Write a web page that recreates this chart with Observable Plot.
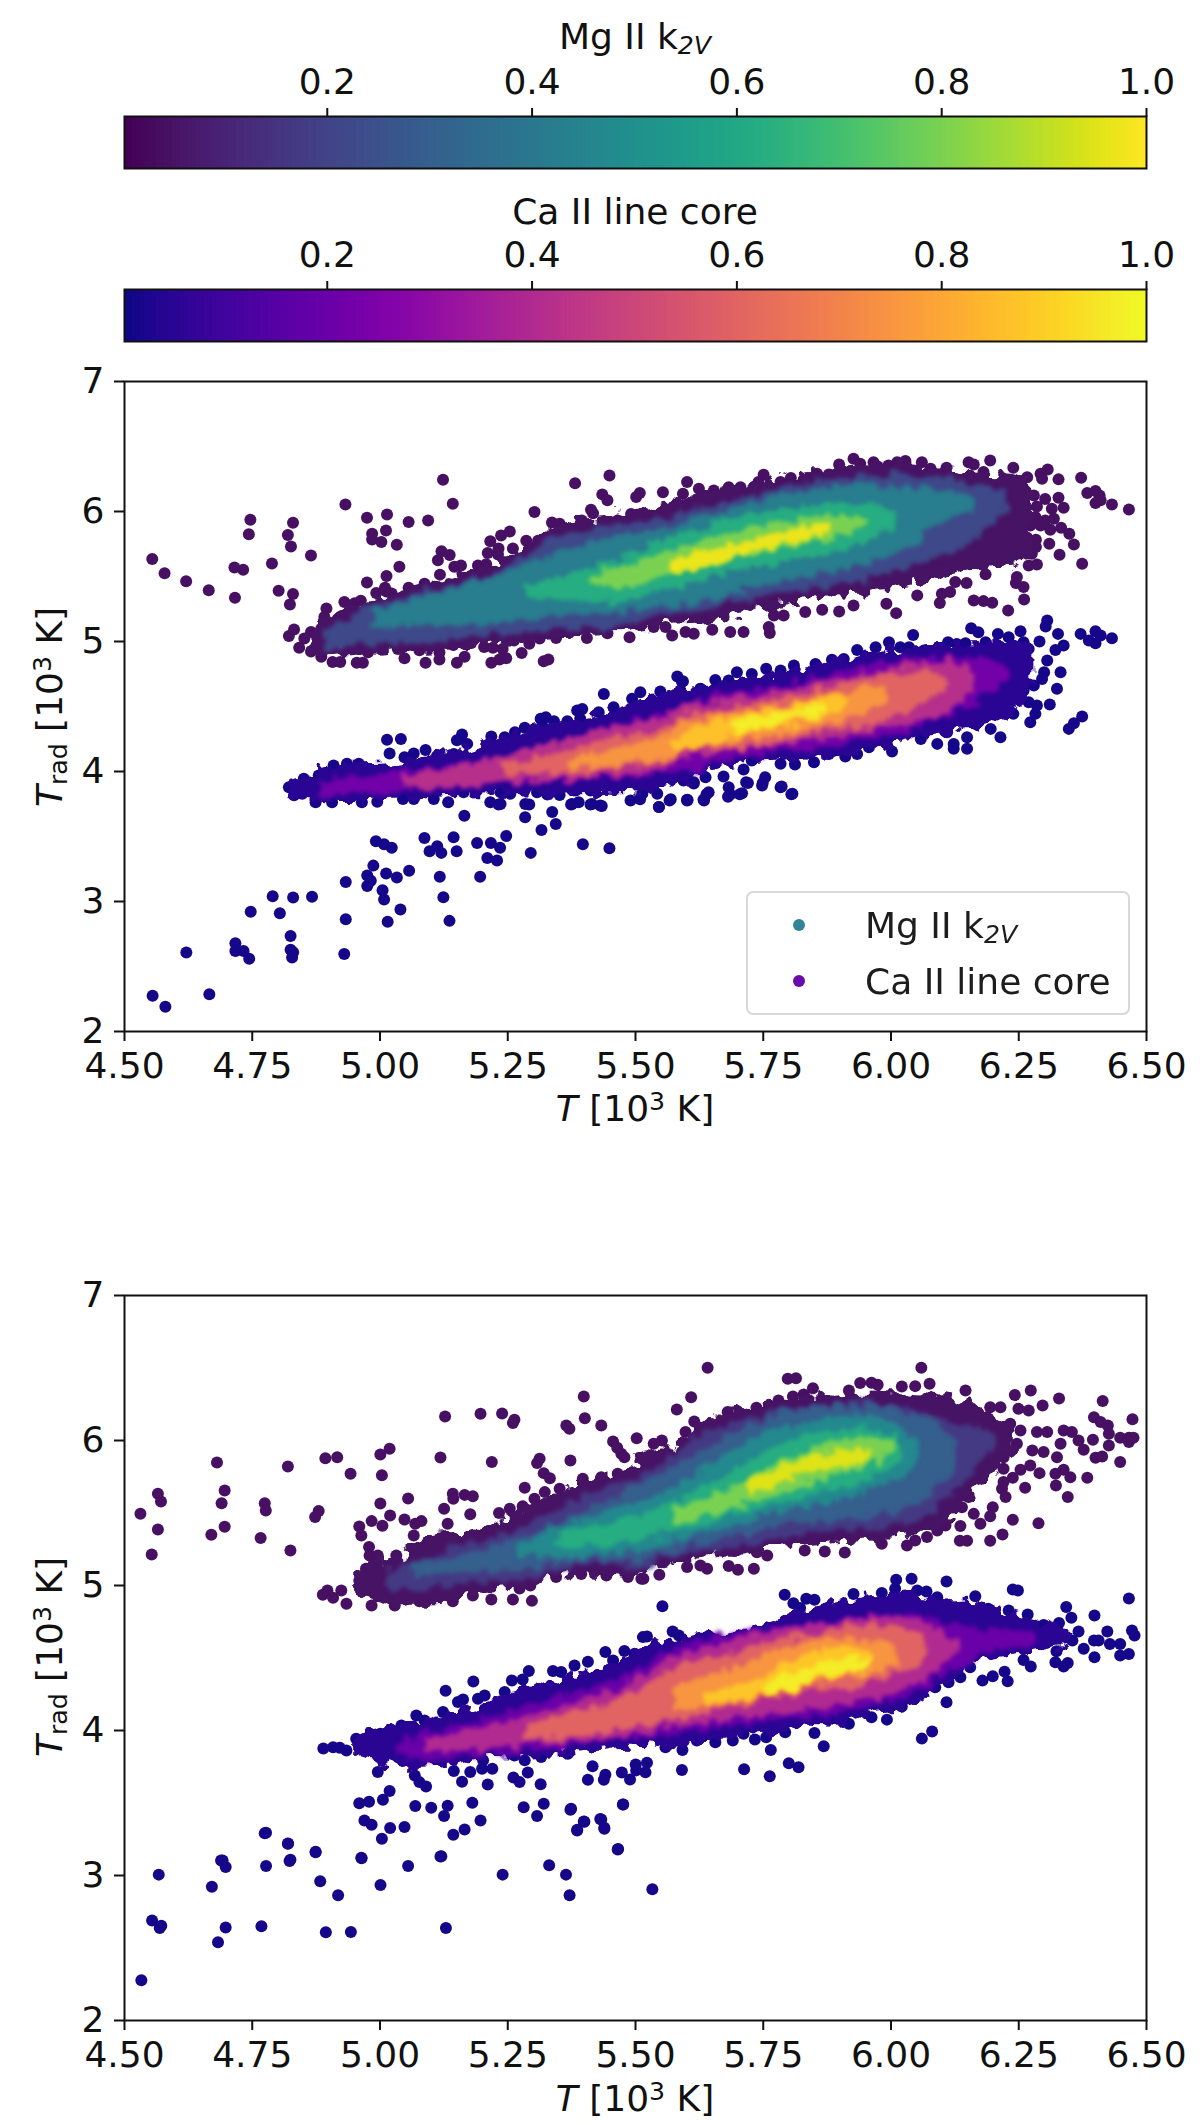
<!DOCTYPE html>
<html><head><meta charset="utf-8">
<script src="https://cdn.jsdelivr.net/npm/d3@7"></script>
<script src="https://cdn.jsdelivr.net/npm/@observablehq/plot@0.6"></script>
<style>
html,body{margin:0;padding:0;background:#fff;}
#page{position:relative;width:1200px;height:2125px;overflow:hidden;font-family:"DejaVu Sans",sans-serif;color:#111;}
#page svg{position:absolute;left:0;background:none;overflow:visible;}
.lab{position:absolute;font-size:36px;line-height:40px;white-space:nowrap;transform:translateX(-50%);}
.lab sub,.leg sub{font-size:.7em;line-height:0;font-style:italic;vertical-align:-.2em;}
.lab sup{font-size:.7em;line-height:0;vertical-align:.45em;}
.rot{position:absolute;font-size:36px;line-height:40px;white-space:nowrap;transform:translate(-50%,-50%) rotate(-90deg);}
.rot sub{font-size:.7em;line-height:0;vertical-align:-.2em;}
.rot sup{font-size:.7em;line-height:0;vertical-align:.45em;}
#legend{position:absolute;left:746px;top:891px;width:380px;height:120px;border:2px solid #d6d6d6;border-radius:7px;background:#fff;opacity:.95;}
.leg{position:absolute;left:117px;font-size:36px;line-height:40px;white-space:nowrap;}
.ldot{position:absolute;left:45px;width:12px;height:12px;border-radius:50%;}
</style></head><body>
<svg width="0" height="0" style="position:absolute"><defs>
<filter id="rough0" x="-5%" y="-8%" width="110%" height="116%" color-interpolation-filters="sRGB"><feTurbulence type="fractalNoise" baseFrequency="0.085" numOctaves="2" seed="4" result="n"/><feDisplacementMap in="SourceGraphic" in2="n" scale="22" xChannelSelector="R" yChannelSelector="G"/></filter>
<filter id="rough1" x="-8%" y="-12%" width="116%" height="124%" color-interpolation-filters="sRGB"><feTurbulence type="fractalNoise" baseFrequency="0.09" numOctaves="2" seed="9" result="n"/><feDisplacementMap in="SourceGraphic" in2="n" scale="18" xChannelSelector="R" yChannelSelector="G" result="d"/><feGaussianBlur in="d" stdDeviation="2"/></filter>
</defs></svg>
<div id="page"></div>
<script>
// ---- axes
const xTicks=[4.5,4.75,5,5.25,5.5,5.75,6,6.25,6.5];
const yTicks=[2,3,4,5,6,7];
const cbTicks=[0.2,0.4,0.6,0.8,1.0];
const cbDomain=[0.002,1];
// ---- upper panel, Mg II k2V : [T, Trad] scattered points
const mg1Points=[[4.554,5.64],[4.578,5.53],[4.62,5.47],[4.664,5.40],[4.714,5.575],[4.731,5.557],[4.715,5.343],[4.745,5.94],[4.742,5.83],[4.787,5.606],[4.80,5.396],[4.828,5.917],[4.818,5.823],[4.824,5.736],[4.863,5.667],[4.828,5.371],[4.822,5.292],[4.93,6.058],[4.972,5.956],[5.011,5.981],[4.982,5.833],[4.982,5.79],[5.009,5.859],[5.0,5.77],[5.03,5.749],[5.053,5.923],[5.091,5.935],[5.12,6.247],[5.139,6.063],
[4.82,5.05],[4.83,5.10],[4.84,4.96],[4.85,5.03],[4.863,4.93],[4.883,4.89],[4.905,4.85],[4.92,4.85],[4.952,4.845],[4.964,4.845],[5.045,4.88],[5.086,4.845],[5.113,4.87],[5.147,4.845],[5.162,4.89],[5.214,4.845],[5.23,4.87],[5.243,4.88],[5.273,4.92],[5.316,4.857],[5.325,4.87],[5.258,5.015],[5.20,4.965],[5.217,4.96],[5.236,4.95],[5.288,4.99],[5.308,5.03],[5.34,5.035],[5.40,5.035],[5.44,5.07],[5.483,5.04],[5.113,4.925],[5.14,4.98],[5.175,5.015],[5.074,4.94],[5.032,4.95],[5.0,4.95],[4.974,4.925],
[4.893,5.26],[4.889,5.195],[4.928,5.31],[4.948,5.30],[4.96,5.32],[4.94,5.23],[4.915,5.18],[4.883,5.105],[4.863,5.08],[4.972,5.46],[5.01,5.51],[5.007,5.42],[4.99,5.38],[5.01,5.39],[5.02,5.375],[5.053,5.42],[5.035,5.58],[5.084,5.45],[5.114,5.52],[5.11,5.63],[5.117,5.70],[5.133,5.67],[5.142,5.58],[5.155,5.59],[5.188,5.59],[5.204,5.60],[5.212,5.775],[5.233,5.82],[5.25,5.85],[5.207,5.685],[5.228,5.72],[5.227,5.675],[5.256,5.72],[5.282,5.78],[5.305,5.78],[5.298,6.0],[5.332,5.92],[5.347,5.91],[5.377,6.22],[5.444,6.28],[5.43,6.135],[5.44,6.09],[5.408,6.017],[5.412,5.99],[5.39,5.935],[5.496,6.115],[5.503,6.145],[5.46,5.935],[5.486,5.985],
[5.548,6.152],[5.595,6.229],[5.587,6.14],[5.618,6.178],[5.647,6.165],[5.676,6.19],[5.699,6.19],[5.744,6.285],[5.734,6.229],[5.777,6.229],[5.797,6.26],[5.822,6.247],[5.848,6.293],[5.871,6.288],[5.891,6.364],[5.919,6.408],[5.932,6.37],[5.958,6.382],[5.966,6.349],[5.987,6.357],[6.004,6.382],[6.02,6.39],[6.052,6.382],[6.069,6.331],[6.10,6.339],[6.143,6.382],[6.153,6.364],[6.185,6.395],[6.172,6.306],[6.23,6.339],[6.257,6.267],[6.297,6.326],[6.283,6.293],[6.286,6.255],[6.318,6.25],[6.362,6.262],[6.374,6.145],[6.39,6.16],[6.398,6.127],[6.39,6.068],[6.4,6.09],[6.422,6.058],[6.455,6.02],
[6.27,6.127],[6.292,6.1],[6.318,6.109],[6.328,6.032],[6.305,6.025],[6.276,6.043],[6.273,5.961],[6.292,5.935],[6.309,5.948],[6.263,5.897],[6.283,5.897],[6.302,5.864],[6.323,5.879],[6.339,5.833],[6.257,5.802],[6.274,5.787],[6.30,5.757],[6.348,5.751],[6.274,5.731],[6.266,5.68],[6.32,5.672],[6.364,5.603],[6.276,5.598],[6.26,5.59],[6.237,5.501],[6.235,5.455],[6.25,5.425],[6.251,5.33],[6.22,5.246],
[6.153,5.322],[6.172,5.317],[6.189,5.304],[6.087,5.302],[6.091,5.373],[6.107,5.386],[6.117,5.463],[6.139,5.455],[6.176,5.522],[6.043,5.361],[5.983,5.297],[6.002,5.225],[5.919,5.284],[5.891,5.238],[5.858,5.251],[5.825,5.233],[5.783,5.207],[5.764,5.207],[5.756,5.072],[5.754,5.118],[5.705,5.08],[5.679,5.08],[5.644,5.098],[5.608,5.067],[5.592,5.08],[5.566,5.054],[5.553,5.118],[5.53,5.118]];
// density bands of the upper Mg II cloud: [T, low, high]
const mg1Level=[0.05,0.22,0.42,0.62,0.8,0.97];
const mg1B0=[[4.857,4.89,5.09],[4.954,4.91,5.284],[5.084,4.94,5.437],[5.214,4.965,5.60],[5.344,5.04,5.885],[5.473,5.07,6.0],[5.504,5.10,6.02],[5.634,5.16,6.14],[5.764,5.27,6.255],[5.893,5.35,6.33],[6.023,5.425,6.37],[6.153,5.55,6.306],[6.244,5.60,6.28],[6.262,5.72,6.2]];
const mg1B1=[[4.889,4.92,5.06],[4.954,4.975,5.23],[5.084,5.0,5.38],[5.214,5.05,5.53],[5.344,5.10,5.81],[5.473,5.128,5.915],[5.504,5.16,5.93],[5.634,5.26,6.04],[5.764,5.36,6.17],[5.893,5.435,6.26],[6.023,5.56,6.29],[6.153,5.79,6.22],[6.218,6.01,6.17]];
const mg1B2=[[4.987,5.118,5.246],[5.052,5.12,5.32],[5.116,5.118,5.373],[5.214,5.14,5.50],[5.344,5.195,5.68],[5.473,5.22,5.83],[5.504,5.25,5.83],[5.634,5.32,5.96],[5.764,5.45,6.114],[5.893,5.55,6.20],[6.023,5.705,6.19],[6.088,5.91,6.165],[6.153,6.01,6.114]];
const mg1B3=[[5.279,5.35,5.42],[5.344,5.335,5.50],[5.473,5.30,5.654],[5.504,5.36,5.70],[5.569,5.42,5.81],[5.699,5.55,5.96],[5.828,5.64,6.05],[5.958,5.79,6.05],[5.997,5.884,5.986]];
const mg1B4=[[5.408,5.45,5.50],[5.473,5.425,5.603],[5.569,5.527,5.705],[5.699,5.655,5.86],[5.828,5.757,5.948],[5.906,5.833,5.974],[5.945,5.885,5.935]];
const mg1B5=[[5.56,5.525,5.625],[5.64,5.60,5.70],[5.72,5.69,5.79],[5.80,5.77,5.87],[5.87,5.82,5.92]];
// ---- upper panel, Ca II line core
const ca1FarPoints=[[4.555,2.275],[4.58,2.19],[4.666,2.287],[4.621,2.608],[4.717,2.679],[4.717,2.62],[4.733,2.62],[4.744,2.56],[4.747,2.922],[4.79,3.04],[4.804,2.91],[4.83,3.03],[4.867,3.036],[4.825,2.734],[4.825,2.628],[4.83,2.61],[4.828,2.57],[4.93,2.597],[4.933,2.863],[4.933,3.15],[4.975,3.12],[4.982,3.16],[4.987,3.276],[4.975,3.2],[5.015,2.844],[5.005,3.087],[5.008,3.016],[5.012,3.216],[5.033,3.185],[5.057,3.236],[5.04,2.938],[5.124,3.032],[5.136,2.851],[5.117,3.19],[5.196,3.19],[4.992,3.464],[5.008,3.44],[5.023,3.413],[5.087,3.488],[5.097,3.386],[5.112,3.425],[5.12,3.374],[5.144,3.495],[5.15,3.386],[5.19,3.45],[5.21,3.334],[5.217,3.45],[5.229,3.315],[5.235,3.413],[5.247,3.503],[5.295,3.374],[5.397,3.44],[5.449,3.41],[5.316,3.55],[5.344,3.597],[5.284,3.648],[5.337,3.688],[5.165,3.66],[5.232,3.746],[5.292,3.746],[5.374,3.746],[5.412,3.746],[5.434,3.735],[5.509,3.786],[5.546,3.727],[5.569,3.786],[5.602,3.78],[5.639,3.825],[5.681,3.805],[5.704,3.825],[5.72,3.911],[5.749,3.911],[5.786,3.884],[5.805,3.825]];
const ca1Points=[[4.82,3.89],[4.83,3.83],[4.849,3.955],[4.846,3.84],[4.878,3.98],[4.907,4.057],[4.933,4.07],[4.956,4.07],[4.872,3.776],[4.904,3.776],[4.962,3.776],[4.992,3.78],[5.042,3.80],[5.063,3.80],[5.102,3.80],[5.13,3.776],[5.011,4.254],[5.038,4.261],[5.016,4.149],[5.045,4.12],[5.063,4.15],[5.086,4.177],[5.108,4.128],[5.141,4.146],[5.157,4.295],[5.147,4.25],[5.167,4.223],[5.214,4.279],[5.206,4.2],[5.24,4.274],[5.26,4.312],[5.279,4.346],[5.31,4.415],[5.32,4.427],[5.313,4.363],[5.336,4.397],[5.362,4.397],[5.381,4.478],[5.391,4.491],[5.387,4.415],[5.423,4.466],[5.433,4.606],[5.452,4.504],[5.488,4.568],[5.504,4.619],[5.543,4.624],[5.576,4.739],[5.587,4.703],[5.582,4.632],[5.621,4.644],
[5.212,3.776],[5.232,3.763],[5.28,3.763],[5.347,3.832],[5.378,3.865],[5.371,3.763],[5.384,3.776],[5.41,3.763],[5.426,3.75],[5.407,3.865],[5.485,3.79],[5.508,3.84],[5.537,3.84],[5.54,3.74],[5.561,3.79],[5.595,3.79],[5.628,3.79],[5.608,3.92],[5.303,3.853],[5.323,3.835],[5.251,3.84],[5.232,3.853],[5.186,3.865],[5.16,3.853],
[5.585,4.70],[5.621,4.645],[5.65,4.713],[5.676,4.708],[5.692,4.772],[5.721,4.759],[5.749,4.798],[5.777,4.785],[5.803,4.823],[5.845,4.836],[5.877,4.867],[5.9,4.874],[5.926,4.943],[5.962,4.964],[5.988,5.002],[6.01,4.964],[6.035,5.058],[6.027,4.964],[6.056,4.938],[6.082,4.913],[6.103,5.002],[6.12,4.989],[6.137,4.994],[6.148,5.109],[6.162,5.079],[6.176,5.002],[6.2,5.066],[6.221,5.04],[6.244,5.086],[6.25,5.002],[6.26,4.951],[6.281,5.007],[6.296,5.168],[6.293,5.122],[6.317,5.066],[6.361,5.066],[6.377,5.015],[6.39,4.994],[6.39,5.086],[6.4,5.053],[6.422,5.033],[6.328,4.977],[6.312,4.943],[6.296,4.862],[6.322,4.772],[6.315,4.645],[6.29,4.772],[6.27,4.67],[6.286,4.721],[6.25,4.632],[6.301,4.524],[6.276,4.517],[6.26,4.542],[6.273,4.453],[6.263,4.389],[6.364,4.433],[6.348,4.381],[6.338,4.338],
[6.205,4.274],[6.23,4.453],[6.186,4.338],[6.14,4.185],[6.14,4.274],[6.114,4.185],[6.114,4.223],[6.082,4.223],[6.101,4.312],[6.05,4.261],[5.994,4.164],[5.949,4.197],[5.926,4.146],[5.903,4.126],[5.871,4.146],[5.842,4.083],[5.805,4.065],[5.777,4.07],[5.721,4.095],[5.705,4.026],[5.666,3.973],[5.71,3.929],[5.676,3.891],[5.679,3.835],[5.702,3.845],[5.741,3.904],[5.747,3.968],[5.777,3.891],[5.8,3.84],[5.637,3.853],[5.627,3.794],[5.595,3.794],[5.608,3.929],[5.631,3.968],[5.588,3.942]];
const ca1Level=[0.05,0.22,0.42,0.6,0.75,0.87,0.97];
const ca1B0=[[4.816,3.83,3.93],[4.914,3.776,4.057],[5.044,3.79,4.095],[5.173,3.84,4.2],[5.303,3.83,4.35],[5.433,3.84,4.453],[5.563,3.89,4.63],[5.647,4.02,4.68],[5.777,4.08,4.77],[5.906,4.134,4.874],[6.036,4.25,4.964],[6.166,4.35,5.0],[6.25,4.53,4.99],[6.27,4.68,4.9]];
const ca1B1=[[4.881,3.83,3.92],[4.979,3.84,3.99],[5.108,3.875,4.04],[5.238,3.914,4.13],[5.368,3.94,4.26],[5.498,3.965,4.41],[5.628,4.03,4.56],[5.647,4.067,4.59],[5.777,4.156,4.665],[5.906,4.21,4.79],[6.036,4.335,4.88],[6.134,4.488,4.89],[6.218,4.69,4.84]];
const ca1B2=[[5.044,3.865,3.97],[5.141,3.89,4.044],[5.303,3.94,4.197],[5.433,3.97,4.325],[5.563,4.044,4.453],[5.582,4.095,4.504],[5.71,4.172,4.58],[5.842,4.25,4.683],[5.971,4.325,4.785],[6.101,4.453,4.862],[6.153,4.63,4.81]];
const ca1B3=[[5.238,3.99,4.07],[5.336,3.98,4.146],[5.433,4.02,4.25],[5.563,4.095,4.35],[5.582,4.146,4.427],[5.71,4.197,4.517],[5.842,4.30,4.619],[5.971,4.39,4.747],[6.069,4.555,4.772],[6.101,4.606,4.734]];
const ca1B4=[[5.368,4.03,4.108],[5.465,4.057,4.197],[5.563,4.12,4.3],[5.582,4.197,4.376],[5.71,4.25,4.478],[5.842,4.338,4.568],[5.939,4.44,4.645],[5.984,4.53,4.67]];
const ca1B5=[[5.563,4.146,4.25],[5.614,4.197,4.35],[5.71,4.3,4.44],[5.809,4.376,4.53],[5.906,4.49,4.606]];
const ca1B6=[[5.679,4.31,4.39],[5.744,4.35,4.44],[5.809,4.40,4.49],[5.861,4.466,4.54]];
// ---- lower panel, Mg II k2V
const mg2Points=[[4.531,5.495],[4.565,5.632],[4.571,5.58],[4.565,5.386],[4.553,5.214],[4.68,5.849],[4.695,5.655],[4.689,5.568],[4.695,5.405],[4.669,5.35],[4.773,5.568],[4.775,5.517],[4.765,5.327],[4.818,5.821],[4.823,5.242],[4.878,5.513],[4.871,5.472],[4.891,5.878],[4.914,5.885],[4.94,5.77],[4.998,5.904],[5.016,5.943],[5.001,5.761],[4.998,5.566],[5.052,5.6],[4.957,5.407],[4.981,5.444],[5.002,5.412],[5.017,5.483],[5.045,5.455],[4.961,5.345],[5.066,5.426],[5.078,5.444],[5.124,6.166],[5.193,6.184],[5.235,6.186],[5.259,6.143],[5.256,6.12],[5.115,5.883],[5.215,5.851],[5.122,5.529],[5.139,5.632],[5.14,5.598],[5.162,5.625],[5.178,5.616],[5.173,5.492],[5.129,5.426],[5.063,5.345],[5.308,5.874],[5.303,5.844],[5.316,5.775],[5.328,5.74],[5.368,5.862],[5.279,5.674],[5.394,6.304],[5.396,6.154],[5.36,6.104],[5.366,6.081],[5.428,6.104],[5.497,6.016],[5.451,5.993],[5.459,5.95],[5.467,5.908],[5.473,5.885],[5.229,5.5],[5.25,5.529],[5.275,5.547],[5.298,5.598],[5.318,5.644],[5.347,5.667],[5.392,5.736],[5.428,5.747],[5.46,5.77],
[5.029,5.207],[4.976,5.265],[4.977,5.207],[4.993,5.207],[4.99,5.161],[4.97,5.115],[4.957,5.035],[4.961,4.977],[4.98,5.0],[4.895,4.966],[4.886,4.936],[4.922,4.966],[4.906,4.915],[4.932,4.874],[4.981,4.862],[5.026,4.862],[5.074,4.892],[5.139,4.892],[5.178,4.931],[5.214,4.904],[5.256,4.904],[5.293,4.894],[5.269,4.98],[5.29,5.0],[5.34,5.058],[5.389,5.08],[5.438,5.069],[5.48,5.058],[5.506,5.046],
[5.635,6.501],[6.051,6.501],[5.791,6.426],[5.807,6.43],[5.603,6.299],[5.575,6.214],[5.84,6.361],[5.822,6.317],[5.801,6.304],[5.773,6.276],[5.73,6.226],[5.674,6.196],[5.609,6.131],[5.592,6.058],[5.546,6.0],[5.53,5.977],[5.592,5.977],[5.585,5.92],[5.507,5.874],[5.932,6.396],[5.954,6.398],[5.966,6.384],[5.91,6.345],[6.013,6.373],[6.039,6.375],[6.067,6.391],[6.137,6.345],[6.233,6.313],[6.264,6.345],[6.287,6.242],[6.319,6.29],[6.404,6.272],[6.462,6.147],[6.387,6.161],[6.4,6.127],[6.414,6.104],[6.416,6.046],[6.438,6.019],[6.455,6.019],[6.464,6.019],[6.455,5.989],[6.385,6.005],[6.416,5.966],[6.367,5.936],[6.357,6.0],[6.344,6.058],[6.328,6.069],[6.296,6.058],[6.276,6.058],[6.39,5.881],[6.403,5.89],[6.438,5.851],[6.374,5.743],[6.341,5.747],[6.328,5.798],[6.312,5.77],[6.313,5.69],[6.336,5.61],[6.281,5.775],[6.315,5.885],[6.289,5.92],[6.322,5.977],[6.267,5.931],
[6.24,6.219],[6.26,6.207],[6.224,6.115],[6.244,6.069],[6.205,6.23],[6.185,6.23],[6.237,5.977],[6.211,5.885],[6.185,5.839],[6.211,5.805],[6.263,5.828],[6.244,5.798],[6.229,5.743],[6.211,5.713],[6.208,5.667],[6.253,5.674],[6.215,5.61],[6.19,5.54],[6.153,5.494],[6.185,5.478],[6.166,5.426],[6.229,5.453],[6.279,5.43],[6.127,5.41],[6.209,5.352],[6.185,5.308],[6.126,5.308],[6.14,5.308],[6.098,5.414],[6.082,5.38],[6.062,5.334],[6.039,5.311],[6.023,5.276],[5.974,5.288],[5.902,5.228],[5.863,5.235],[5.824,5.242],[5.751,5.207],[5.731,5.23],[5.725,5.115],[5.694,5.108],[5.676,5.134],[5.634,5.115],[5.621,5.138],[5.595,5.127],[5.541,5.074],[5.51,5.046],[6.13,5.54],[6.143,5.61]];
const mg2Level=[0.05,0.17,0.3,0.47,0.62,0.8,0.95];
const mg2B0=[[4.95,4.97,5.08],[4.985,4.88,5.16],[5.019,4.85,5.17],[5.084,4.885,5.33],[5.149,4.897,5.368],[5.214,4.966,5.414],[5.279,4.99,5.54],[5.344,5.058,5.644],[5.409,5.08,5.736],[5.473,5.058,5.793],[5.504,5.08,5.897],[5.569,5.15,5.954],[5.634,5.196,6.15],[5.699,5.196,6.207],[5.764,5.253,6.265],[5.893,5.3,6.322],[6.023,5.334,6.334],[6.088,5.4,6.31],[6.153,5.63,6.24],[6.23,5.9,6.1]];
const mg2B1=[[5.0,5.035,5.07],[5.03,4.98,5.115],[5.149,5.01,5.26],[5.279,5.045,5.41],[5.409,5.137,5.64],[5.506,5.125,5.775],[5.569,5.206,5.89],[5.634,5.228,6.05],[5.699,5.263,6.13],[5.764,5.31,6.2],[5.828,5.344,6.235],[5.958,5.39,6.255],[6.056,5.459,6.19],[6.088,5.55,6.14],[6.153,5.78,6.1],[6.192,5.977,6.04]];
const mg2B2=[[5.058,5.058,5.15],[5.149,5.08,5.196],[5.279,5.104,5.334],[5.409,5.173,5.54],[5.506,5.173,5.7],[5.569,5.242,5.816],[5.634,5.3,5.954],[5.699,5.334,6.069],[5.764,5.4,6.173],[5.828,5.425,6.219],[5.958,5.472,6.242],[6.056,5.587,6.161],[6.12,5.816,6.0]];
const mg2B3=[[5.266,5.196,5.265],[5.344,5.196,5.4],[5.506,5.242,5.575],[5.569,5.3,5.678],[5.634,5.356,5.816],[5.699,5.425,5.954],[5.764,5.494,6.069],[5.828,5.54,6.127],[5.893,5.575,6.161],[5.958,5.655,6.161],[6.023,5.77,6.069],[6.043,5.862,5.977]];
const mg2B4=[[5.344,5.242,5.356],[5.506,5.31,5.494],[5.569,5.356,5.587],[5.634,5.425,5.69],[5.699,5.494,5.816],[5.764,5.563,5.954],[5.828,5.61,6.035],[5.893,5.667,6.069],[5.958,5.747,6.08],[6.017,5.862,5.977]];
const mg2B5=[[5.569,5.426,5.529],[5.634,5.483,5.609],[5.699,5.54,5.7],[5.764,5.61,5.84],[5.828,5.69,5.931],[5.893,5.76,6.0],[5.971,5.862,6.012],[5.997,5.93,5.98]];
const mg2B6=[[5.718,5.632,5.724],[5.777,5.7,5.816],[5.841,5.782,5.897],[5.919,5.839,5.943],[5.958,5.874,5.931]];
// ---- lower panel, Ca II line core
const ca2FarPoints=[[4.533,2.278],[4.554,2.69],[4.569,2.638],[4.572,2.653],[4.567,3.006],[4.671,2.923],[4.692,3.104],[4.698,3.059],[4.683,2.54],[4.698,2.642],[4.768,2.65],[4.777,3.295],[4.777,3.066],[4.82,3.22],[4.823,3.1],[4.874,3.164],[4.883,2.961],[4.894,2.608],[4.918,2.863],[4.943,2.611],[4.964,3.119],[5.001,2.935],[5.055,3.066],[5.12,3.133],[5.129,2.638],[5.24,3.006],[5.331,3.07],[5.364,3.006],[5.371,2.863],[5.466,3.182],[5.533,2.905],[5.476,3.49],[5.374,3.46],[5.386,3.315],[5.4,3.37],[5.431,3.389],[5.439,3.329]];
const ca2Points=[[4.887,3.876],[4.906,3.885],[4.919,3.881],[4.932,3.862],[4.951,3.943],[4.967,3.943],[4.993,3.713],[4.998,3.977],[5.019,4.005],[5.039,4.035],[5.068,4.104],[5.084,4.069],[5.125,4.274],[5.179,4.338],[5.149,4.196],[5.159,4.214],[5.188,4.219],[5.201,4.242],[5.12,4.127],[5.254,4.345],[5.287,4.41],[5.275,4.352],[5.24,4.265],[5.334,4.41],[5.35,4.403],[5.376,4.449],[5.402,4.474],[5.436,4.541],[5.451,4.483],[5.473,4.548],[5.493,4.529],[5.509,4.644],
[5.065,3.69],[5.074,3.644],[5.087,3.614],[5.016,3.582],[5.003,3.522],[4.976,3.508],[4.957,3.499],[4.967,3.38],[4.981,3.35],[5.017,3.327],[5.045,3.334],[5.001,3.253],[5.066,3.479],[5.097,3.467],[5.129,3.481],[5.122,3.41],[5.177,3.501],[5.193,3.38],[5.162,3.318],[5.14,3.281],[5.141,3.72],[5.173,3.713],[5.157,3.646],[5.198,3.794],[5.196,3.736],[5.216,3.736],[5.207,3.628],[5.257,3.676],[5.269,3.644],[5.285,3.711],[5.279,3.794],[5.31,3.63],[5.277,3.47],[5.316,3.495],[5.303,3.41],[5.368,3.453],[5.394,3.373],[5.381,3.311],[5.428,3.387],[5.434,3.322],[5.47,3.49],[5.46,3.18],[5.411,3.754],[5.402,3.66],[5.436,3.695],[5.433,3.66],[5.468,3.711],[5.484,3.662],[5.495,3.766],[5.496,3.725],[5.363,3.84],[5.311,3.817],[5.259,3.828],
[5.785,4.937],[5.547,4.857],[5.802,4.878],[5.815,4.845],[5.827,4.908],[5.843,4.901],[5.919,4.942],[5.974,4.949],[6.002,5.039],[6.032,5.046],[6.1,5.027],[6.0,4.977],[6.043,4.965],[6.061,4.958],[6.082,4.919],[6.229,4.972],[6.239,4.965],[6.156,4.926],[6.181,4.839],[6.221,4.827],[6.258,4.8],[6.333,4.852],[6.343,4.777],[6.455,4.91],[6.388,4.793],[6.319,4.742],[6.289,4.728],[6.357,4.682],[6.461,4.689],[6.466,4.655],[6.413,4.682],[6.438,4.597],[6.387,4.62],[6.367,4.563],[6.418,4.597],[6.396,4.62],[6.345,4.62],[6.314,4.547],[6.438,4.517],[6.455,4.528],[6.388,4.505],[6.312,4.471],[6.336,4.466],[6.328,4.441],[6.264,4.441],[6.25,4.487],[6.219,4.34],[6.213,4.406],[6.19,4.374],[6.17,4.344],[6.146,4.436],[6.127,4.367],[6.104,4.333],[6.078,4.298],[6.1,4.195],[6.072,3.993],[6.052,3.944],[6.013,4.165],[5.984,4.075],[5.954,4.092],[5.91,4.046],[5.861,3.892],[5.843,3.983],[5.812,3.747],[5.793,3.774],[5.758,3.866],[5.756,3.685],[5.706,3.733],[5.585,3.728],[5.586,3.866],[5.517,3.777],[5.514,3.712],[5.517,4.648],[5.567,4.682],[5.579,4.655],[5.727,3.938],[5.749,3.954],[5.684,3.931],[5.705,3.977],[5.65,3.919],[5.614,3.931],[5.553,3.885],[5.786,3.988],[4.773,3.292],[4.818,3.219],[4.872,3.161],[4.823,3.109],[4.688,3.104],[4.961,3.122],[5.115,3.131]];
const ca2Level=[0.05,0.2,0.4,0.6,0.75,0.88,0.97];
const ca2B0=[[4.948,3.84,3.966],[5.019,3.759,4.035],[5.084,3.747,4.069],[5.149,3.77,4.138],[5.214,3.816,4.207],[5.279,3.816,4.288],[5.344,3.828,4.357],[5.409,3.862,4.414],[5.473,3.885,4.506],[5.504,3.896,4.574],[5.569,3.885,4.632],[5.634,3.919,4.666],[5.699,3.954,4.689],[5.764,3.977,4.758],[5.828,4.046,4.839],[5.893,4.046,4.896],[5.958,4.115,4.931],[6.023,4.16,4.954],[6.088,4.298,4.896],[6.153,4.459,4.896],[6.218,4.528,4.816],[6.283,4.551,4.747],[6.348,4.597,4.689]];
const ca2B1=[[5.03,3.82,3.92],[5.084,3.79,3.98],[5.214,3.838,4.09],[5.344,3.872,4.24],[5.473,3.941,4.375],[5.569,3.964,4.565],[5.634,4.009,4.63],[5.764,4.056,4.71],[5.893,4.113,4.76],[6.023,4.239,4.805],[6.088,4.354,4.76],[6.153,4.492,4.71],[6.218,4.561,4.685],[6.283,4.596,4.655]];
const ca2B2=[[5.084,3.84,3.943],[5.214,3.874,4.035],[5.344,3.908,4.161],[5.473,3.954,4.299],[5.569,4.023,4.517],[5.634,4.057,4.574],[5.764,4.115,4.689],[5.893,4.172,4.747],[6.023,4.275,4.781],[6.075,4.39,4.712],[6.12,4.528,4.62]];
const ca2B3=[[5.279,3.931,4.058],[5.344,3.943,4.104],[5.473,4.0,4.23],[5.569,4.069,4.436],[5.634,4.115,4.505],[5.699,4.16,4.551],[5.764,4.218,4.62],[5.828,4.253,4.655],[5.893,4.287,4.712],[5.958,4.344,4.724],[6.023,4.413,4.712],[6.056,4.482,4.643]];
const ca2B4=[[5.569,4.138,4.287],[5.634,4.16,4.367],[5.699,4.207,4.436],[5.764,4.253,4.551],[5.828,4.31,4.609],[5.893,4.344,4.632],[5.958,4.39,4.62],[6.004,4.448,4.563]];
const ca2B5=[[5.634,4.184,4.264],[5.699,4.218,4.31],[5.764,4.253,4.413],[5.828,4.333,4.517],[5.893,4.379,4.574],[5.958,4.436,4.54]];
const ca2B6=[[5.751,4.241,4.344],[5.796,4.287,4.39],[5.861,4.367,4.471],[5.919,4.402,4.494],[5.958,4.43,4.475]];

// ---- reading calibration of the fine crops (T axis, and the upper panel's Trad axis)
const calT=t=>4.5+(t-4.5)*1.0054;
const calUp=v=>7-(7-v)*1.0038;
const ptsUp=a=>a.map(d=>[calT(d[0]),calUp(d[1])]);
const ptsLow=a=>a.map(d=>[calT(d[0]),d[1]]);
const bandUp=a=>a.map(d=>[calT(d[0]),calUp(d[1]),calUp(d[2])]);
const bandLow=a=>a.map(d=>[calT(d[0]),d[1],d[2]]);

// ---- drawing helpers
const W=1200,LEFT=124,RIGHT=54,FONT='"DejaVu Sans",sans-serif',INK="#111",TICKFS=36;
const page=document.getElementById("page");
function place(svg,top){svg.style.top=top+"px";page.appendChild(svg);}
function html(cls,inner,left,top){const d=document.createElement("div");d.className=cls;d.innerHTML=inner;d.style.left=left+"px";d.style.top=top+"px";page.appendChild(d);return d;}

function bandMarks(bands,levels,cmap){
  return bands.map((b,i)=>Plot.areaY(b,{x:d=>d[0],y1:d=>d[1],y2:d=>d[2],fill:cmap(levels[i]),curve:"catmull-rom",imageFilter:i?"url(#rough1)":"url(#rough0)"}));
}
function panel(top,plotH,mgPts,caPts,mgB,mgL,caB,caL){
  const mt=12,mb=60;
  const svg=Plot.plot({width:W,height:plotH+mt+mb,marginLeft:LEFT,marginRight:RIGHT,marginTop:mt,marginBottom:mb,
    style:{fontFamily:FONT,background:"none",color:INK},
    x:{domain:[4.5,6.5],label:null},y:{domain:[2,7],label:null},
    marks:[
      Plot.dot(mgPts,{x:d=>d[0],y:d=>d[1],r:6,fill:d3.interpolateViridis(0.04)}),
      ...bandMarks(mgB,mgL,d3.interpolateViridis),
      Plot.dot(caPts,{x:d=>d[0],y:d=>d[1],r:6,fill:d3.interpolatePlasma(0.015)}),
      ...bandMarks(caB,caL,d3.interpolatePlasma),
      Plot.frame({stroke:INK,strokeWidth:2,fill:"none"}),
      Plot.axisX({ticks:xTicks,tickFormat:d3.format(".2f"),tickSize:10,tickPadding:11,fontSize:TICKFS,stroke:INK,strokeWidth:2,label:null}),
      Plot.axisY({ticks:yTicks,tickFormat:d3.format("d"),tickSize:10,tickPadding:10,fontSize:TICKFS,stroke:INK,strokeWidth:2,label:null})
    ]});
  place(svg,top-mt);
}
function colorbar(top,cmap){
  const mt=80,h=52;
  const cells=d3.range(256).map(i=>({a:cbDomain[0]+(cbDomain[1]-cbDomain[0])*i/256,b:cbDomain[0]+(cbDomain[1]-cbDomain[0])*(i+1.2)/256,c:(i+.5)/256}));
  const svg=Plot.plot({width:W,height:h+mt,marginLeft:LEFT,marginRight:RIGHT,marginTop:mt,marginBottom:0,
    style:{fontFamily:FONT,background:"none",color:INK},
    x:{domain:cbDomain,label:null},y:{domain:[0,1],axis:null},
    marks:[
      Plot.rect(cells,{x1:"a",x2:"b",y1:0,y2:1,fill:d=>cmap(d.c)}),
      Plot.frame({stroke:INK,strokeWidth:2,fill:"none"}),
      Plot.axisX({anchor:"top",ticks:cbTicks,tickFormat:d3.format(".1f"),tickSize:9,tickPadding:14,fontSize:TICKFS,stroke:INK,strokeWidth:2,label:null})
    ]});
  place(svg,top-mt);
}
colorbar(116,d3.interpolateViridis);
colorbar(289,d3.interpolatePlasma);
panel(381,650,ptsUp(mg1Points),ptsUp(ca1Points).concat(ca1FarPoints),
  [mg1B0,mg1B1,mg1B2,mg1B3,mg1B4,mg1B5].map(bandUp),mg1Level,
  [ca1B0,ca1B1,ca1B2,ca1B3,ca1B4,ca1B5,ca1B6].map(bandUp),ca1Level);
panel(1295,725,ptsLow(mg2Points),ptsLow(ca2Points).concat(ca2FarPoints),
  [mg2B0,mg2B1,mg2B2,mg2B3,mg2B4,mg2B5,mg2B6].map(bandLow),mg2Level,
  [ca2B0,ca2B1,ca2B2,ca2B3,ca2B4,ca2B5,ca2B6].map(bandLow),ca2Level);

// ---- labels
const xLabel='<i>T</i> [10<sup>3</sup> K]';
const yLabel='<i>T</i><sub>rad</sub> [10<sup>3</sup> K]';
html("lab",'Mg II k<sub>2<i>V</i></sub>',635,17);
html("lab",'Ca II line core',635,192);
html("lab",xLabel,635,1089);
html("lab",xLabel,635,2079);
html("rot",yLabel,50,707);
html("rot",yLabel,50,1657);
const leg=document.createElement("div");leg.id="legend";leg.innerHTML=
 `<span class="ldot" style="top:26px;background:${d3.interpolateViridis(0.42)}"></span><div class="leg" style="top:13px">Mg II k<sub>2<i>V</i></sub></div>
  <span class="ldot" style="top:82px;background:${d3.interpolatePlasma(0.18)}"></span><div class="leg" style="top:69px">Ca II line core</div>`;
page.appendChild(leg);
</script></body></html>
